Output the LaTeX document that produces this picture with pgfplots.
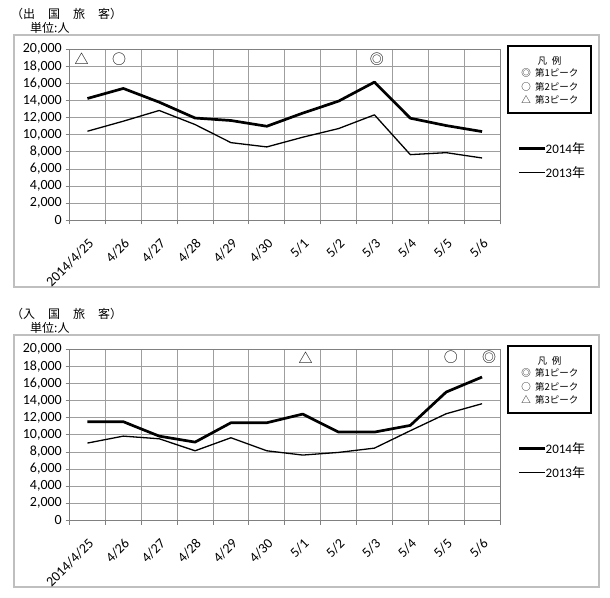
\documentclass[border=0pt]{standalone}
\usepackage{fontspec}
\setmainfont{Carlito}
\newfontfamily\jp{Noto Sans CJK JP}
\usepackage{pgfplots}
\pgfplotsset{compat=1.18}

\pgfplotsset{
  jpchart/.style={
    anchor=south west,
    scale only axis,
    width=430.5pt, height=171.5pt,
    xmin=-0.5, xmax=11.5,
    ymin=0, ymax=20000,
    scaled y ticks=false,
    clip=false,
    axis line style={draw=black!50, line width=0.9pt},
    xtick={0,...,11},
    xticklabels={2014/4/25,4/26,4/27,4/28,4/29,4/30,5/1,5/2,5/3,5/4,5/5,5/6},
    major x tick style={draw=none},
    minor xtick={-0.5,0.5,...,11.5},
    xminorgrids=true,
    minor tick length=4pt,
    ytick={0,2000,...,20000},
    yticklabels={0,{2,000},{4,000},{6,000},{8,000},{10,000},{12,000},{14,000},{16,000},{18,000},{20,000}},
    ymajorgrids=true,
    major tick length=4pt,
    tick pos=left,
    tick align=outside,
    tick style={draw=black!50, line width=0.8pt},
    grid style={draw=black!38, line width=0.8pt},
    minor grid style={draw=black!38, line width=0.8pt},
    tick label style={font=\fontsize{14}{14}\selectfont},
    xticklabel style={xshift=0pt, yshift=-13pt, rotate=45, anchor=north east, inner sep=0pt},
    yticklabel style={anchor=east, inner sep=0pt, xshift=-3.5pt},
  },
  y2014/.style={black, line width=2.7pt, line join=round},
  y2013/.style={black, line width=1.3pt, line join=round},
}
\tikzset{peak/.style={font=\jp\fontsize{14}{14}\selectfont}}

\newcommand{\legendbox}[1]{%
  \draw[black, line width=1.8pt] (508pt,#1+484pt) rectangle (591pt,#1+551pt);
  \node[font=\jp\fontsize{9.5}{9.5}\selectfont] at (549.5pt,#1+536pt) {凡\hspace{0.5em}例};
  \node[font=\jp\fontsize{9.5}{9.5}\selectfont] at (526pt,#1+523.7pt) {◎};
  \node[font=\jp\fontsize{9.5}{9.5}\selectfont] at (526pt,#1+510.3pt) {○};
  \node[font=\jp\fontsize{9.5}{9.5}\selectfont] at (526pt,#1+497pt) {△};
  \node[font=\jp\fontsize{9.5}{9.5}\selectfont, anchor=west, inner sep=0pt] at (535pt,#1+523.7pt) {第1ピーク};
  \node[font=\jp\fontsize{9.5}{9.5}\selectfont, anchor=west, inner sep=0pt] at (535pt,#1+510.3pt) {第2ピーク};
  \node[font=\jp\fontsize{9.5}{9.5}\selectfont, anchor=west, inner sep=0pt] at (535pt,#1+497pt) {第3ピーク};
  \draw[black, line width=2.7pt] (519pt,#1+448.7pt) -- (545pt,#1+448.7pt);
  \draw[black, line width=1.3pt] (519pt,#1+424.3pt) -- (545pt,#1+424.3pt);
  \node[font=\fontsize{13}{13}\selectfont, anchor=west, inner sep=0pt] at (545.5pt,#1+448.7pt) {2014{\jp 年}};
  \node[font=\fontsize{13}{13}\selectfont, anchor=west, inner sep=0pt] at (545.5pt,#1+424.3pt) {2013{\jp 年}};
}

\newcommand{\paneltitle}[2]{%
  \node[font=\jp\fontsize{12}{12}\selectfont, anchor=west, inner sep=0pt] at (11pt,#1+583pt)
    {（#2）};
  \node[font=\jp\fontsize{12}{12}\selectfont, anchor=west, inner sep=0pt] at (30pt,#1+569pt) {単位:人};
}

\begin{document}
\begin{tikzpicture}
\fill[white] (0pt,0pt) rectangle (610pt,597pt);
\path[use as bounding box] (0pt,0pt) rectangle (610pt,597pt);

%% ---- 出国旅客 ----
\draw[black!25, line width=1.3pt] (14pt,310pt) rectangle (599pt,562pt);
\paneltitle{0pt}{出\hspace{13pt}国\hspace{13pt}旅\hspace{13pt}客}
\begin{axis}[jpchart, at={(69.5pt,376.5pt)}]
\addplot[y2014] coordinates {
  (0,14230) (1,15400) (2,13800) (3,11950) (4,11660) (5,10990)
  (6,12520) (7,13920) (8,16140) (9,11930) (10,11070) (11,10370)
};
\addplot[y2013] coordinates {
  (0,10410) (1,11580) (2,12830) (3,11190) (4,9080) (5,8580)
  (6,9710) (7,10720) (8,12320) (9,7680) (10,7910) (11,7290)
};
\node[peak] at (axis cs:-0.16,18830) {△};
\node[peak] at (axis cs:0.88,18830) {○};
\node[peak] at (axis cs:8.07,18830) {◎};
\end{axis}
\legendbox{0pt}

%% ---- 入国旅客 ----
\draw[black!25, line width=1.3pt] (14pt,10pt) rectangle (599pt,262pt);
\paneltitle{-300pt}{入\hspace{13pt}国\hspace{13pt}旅\hspace{13pt}客}
\begin{axis}[jpchart, at={(69.5pt,76.5pt)}]
\addplot[y2014] coordinates {
  (0,11520) (1,11520) (2,9840) (3,9140) (4,11400) (5,11400)
  (6,12410) (7,10310) (8,10310) (9,11090) (10,14980) (11,16730)
};
\addplot[y2013] coordinates {
  (0,9030) (1,9840) (2,9530) (3,8130) (4,9650) (5,8130)
  (6,7630) (7,7940) (8,8440) (9,10470) (10,12450) (11,13620)
};
\node[peak] at (axis cs:6.08,19030) {△};
\node[peak] at (axis cs:10.13,19030) {○};
\node[peak] at (axis cs:11.2,19030) {◎};
\end{axis}
\legendbox{-300pt}
\end{tikzpicture}
\end{document}
